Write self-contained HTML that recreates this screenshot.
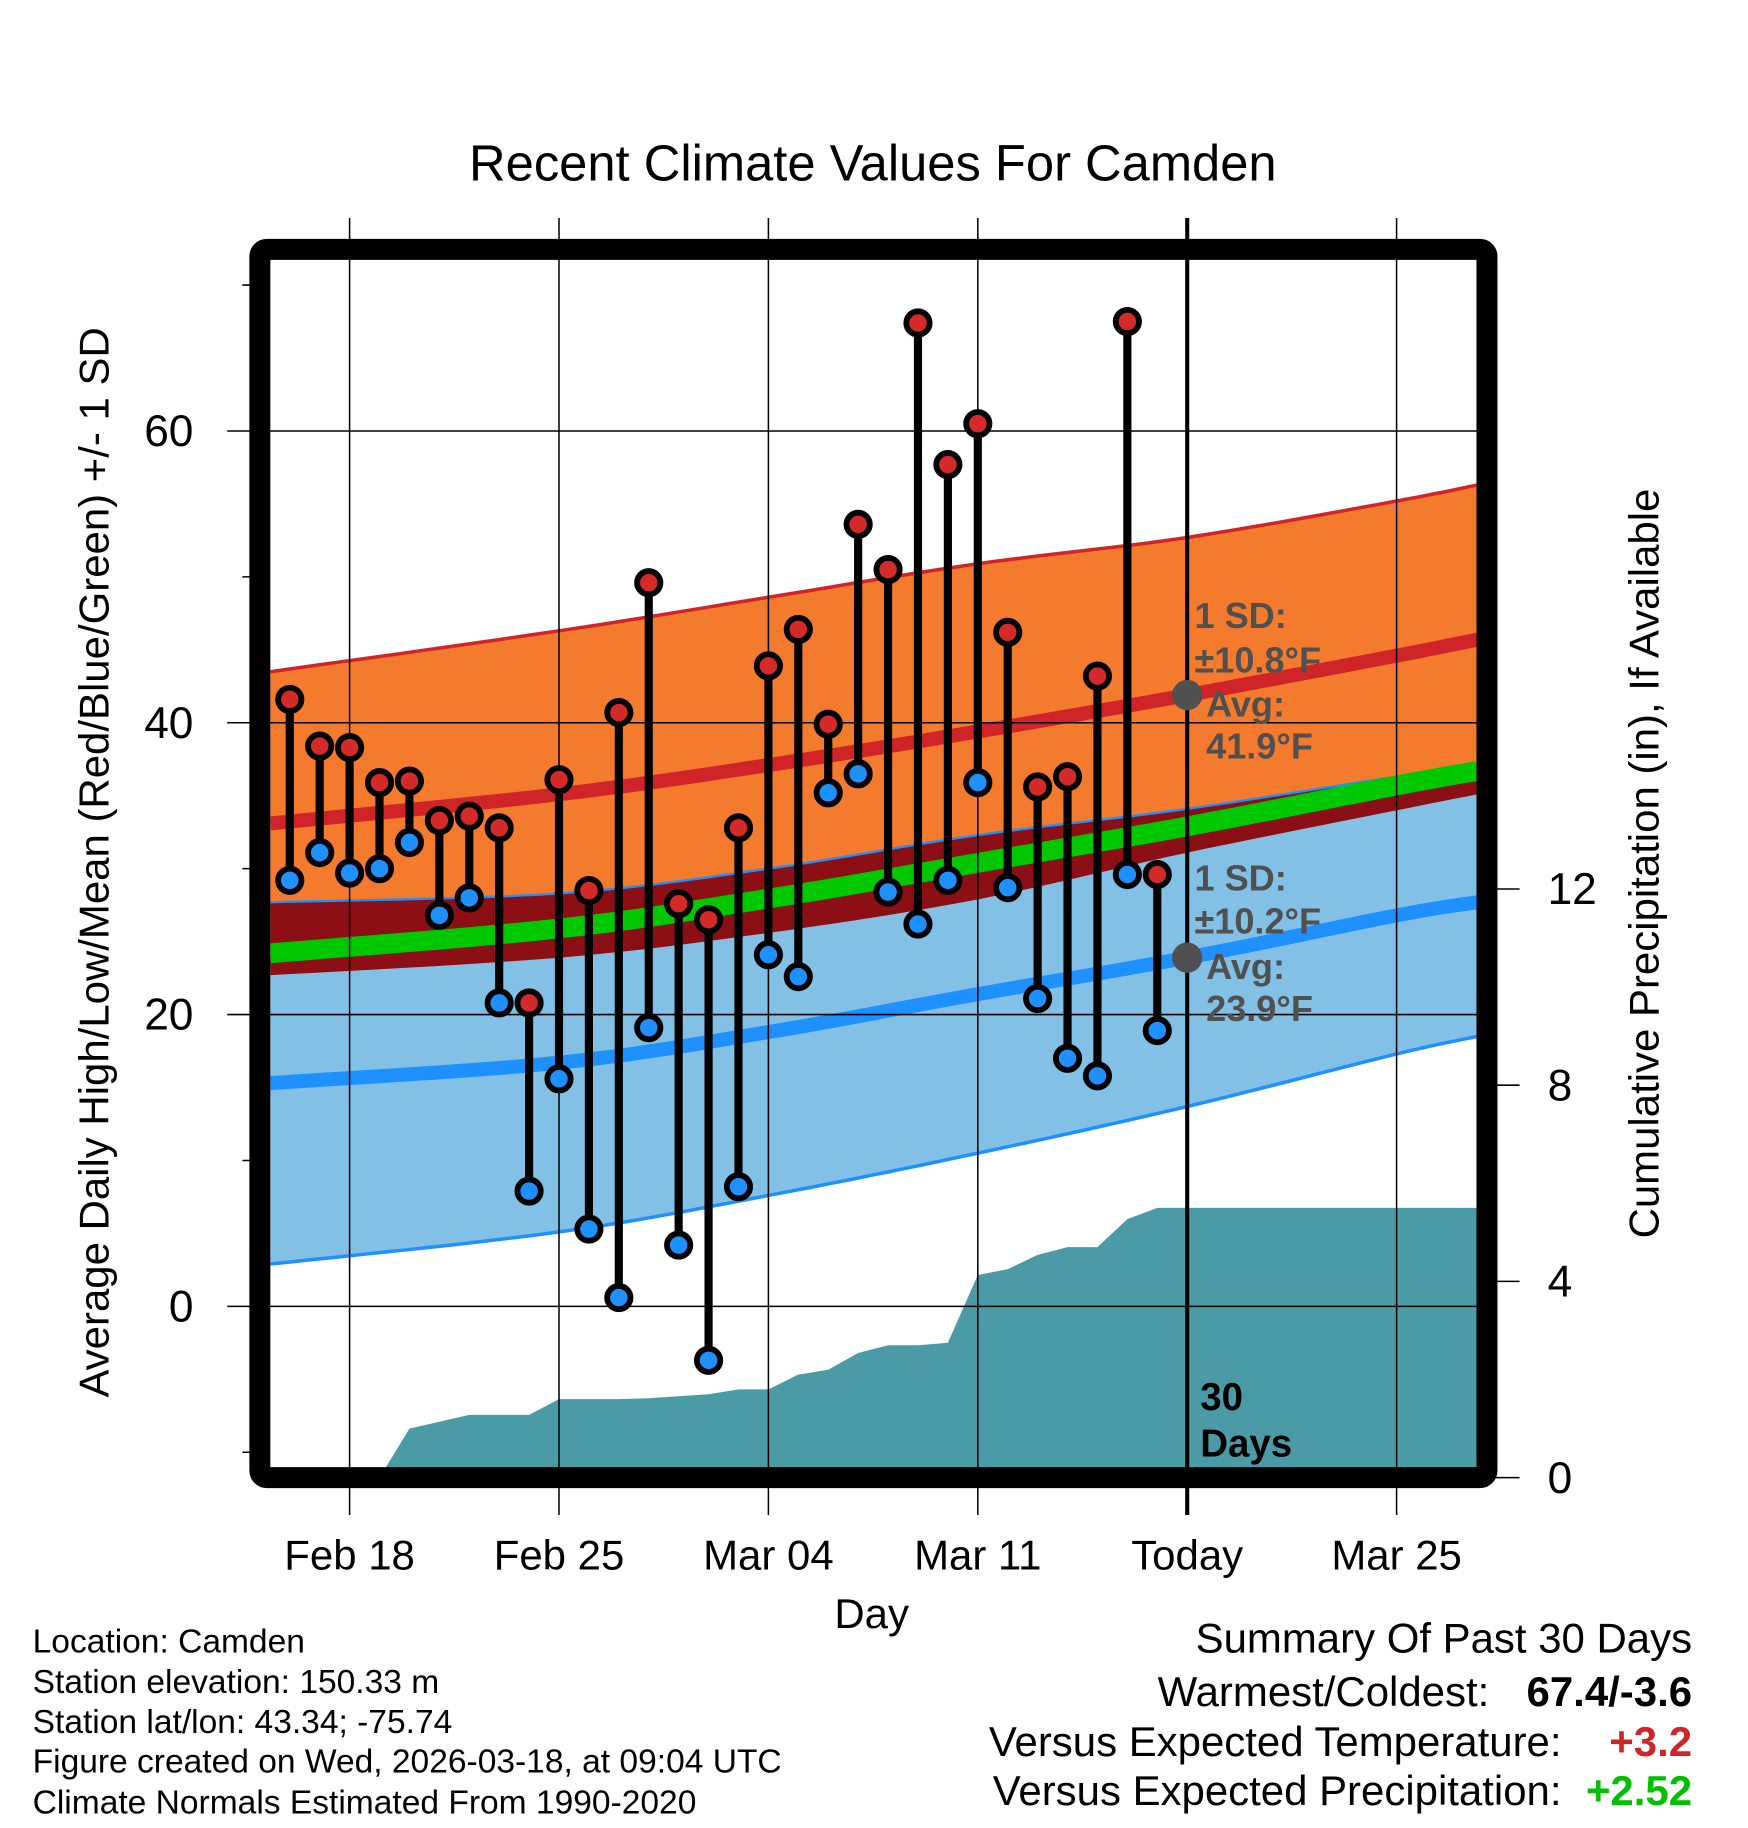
<!DOCTYPE html>
<html><head><meta charset="utf-8"><style>
html,body{margin:0;padding:0;background:#fff;}
svg{display:block;font-family:"Liberation Sans",Arial,sans-serif;}
</style></head><body>
<svg id="chart" xmlns="http://www.w3.org/2000/svg" width="1748" height="1828" viewBox="0 0 1500 1568.6"></svg>
<script>
// ---- data ----
const dayLabels = ["Feb 18","Feb 25","Mar 04","Mar 11","Today","Mar 25"];
const labelDays = [0,7,14,21,28,35];
const obsDays = [-2,-1,0,1,2,3,4,5,6,7,8,9,10,11,12,13,14,15,16,17,18,19,20,21,22,23,24,25,26,27];
const highs = [41.6,38.4,38.3,35.9,36.0,33.3,33.6,32.8,20.8,36.1,28.5,40.7,49.6,27.6,26.5,32.8,43.9,46.4,39.9,53.6,50.5,67.4,57.7,60.5,46.2,35.6,36.3,43.2,67.5,29.6];
const lows = [29.2,31.1,29.7,30.0,31.8,26.8,28.0,20.8,7.9,15.6,5.3,0.6,19.1,4.2,-3.7,8.2,24.1,22.6,35.2,36.5,28.4,26.2,29.2,35.9,28.7,21.1,17.0,15.8,29.6,18.9];
const precip = [0,0,0,0,1.0,1.14,1.28,1.28,1.28,1.6,1.6,1.6,1.62,1.66,1.7,1.8,1.8,2.1,2.2,2.54,2.7,2.7,2.75,4.13,4.25,4.54,4.7,4.7,5.27,5.5];
const normDays = [-2.65,7,14,21,28,35,37.7];
const hiMean = [33.1,35.1,37.1,39.4,41.9,44.6,45.7];
const hiSD = [10.4,11.2,11.5,11.5,10.8,10.6,10.6];
const loMean = [15.3,16.7,18.8,21.4,23.9,26.8,27.7];
const loSD = [12.4,11.6,11.2,10.9,10.2,9.5,9.2];
const tempTicks = [0,20,40,60];
const tempMinor = [-10,10,30,50,70];
const precipTicks = [0,4,8,12];

// ---- scales ----
const L=232,R=1268,T=223,B=1260;
const X=d=>300+d*25.67;
const Y=t=>1121-t*12.52;
const P=p=>1268-p*42.1;
const NS="http://www.w3.org/2000/svg";
const svg=document.getElementById('chart');
function el(tag,attrs,parent){const e=document.createElementNS(NS,tag);for(const k in attrs)e.setAttribute(k,attrs[k]);(parent||svg).appendChild(e);return e;}
function txt(s,attrs,parent){const e=el('text',attrs,parent);e.textContent=s;return e;}

const clip=el('clipPath',{id:'plotclip'});el('rect',{x:L,y:T,width:R-L,height:B-T},clip);
const g=el('g',{'clip-path':'url(#plotclip)'});



// smooth curve through normal points (monotone-ish cardinal)
function curvePts(vals){
  const p=normDays.map((d,i)=>[X(d),Y(vals[i])]);
  const out=[];
  for(let i=0;i<p.length-1;i++){
    const p0=p[Math.max(i-1,0)],p1=p[i],p2=p[i+1],p3=p[Math.min(i+2,p.length-1)];
    for(let s=0;s<10;s++){
      const t=s/10,t2=t*t,t3=t2*t;
      const f=(a,b,c,d)=>0.5*((2*b)+(-a+c)*t+(2*a-5*b+4*c-d)*t2+(-a+3*b-3*c+d)*t3);
      out.push(f(p0[0],p1[0],p2[0],p3[0]).toFixed(1)+','+f(p0[1],p1[1],p2[1],p3[1]).toFixed(1));
    }
  }
  out.push(p[p.length-1][0]+','+p[p.length-1][1]);
  return out;
}
const hiTop=hiMean.map((m,i)=>m+hiSD[i]), hiBot=hiMean.map((m,i)=>m-hiSD[i]);
const loTop=loMean.map((m,i)=>m+loSD[i]), loBot=loMean.map((m,i)=>m-loSD[i]);
function band(a,b){return curvePts(a).concat(curvePts(b).reverse()).join(' ');}
let e;
e=el('polygon',{points:band(loTop,loBot),fill:'#82c0e6'},g);

e=el('polygon',{points:band(hiTop,hiBot),fill:'#f47a2e'},g);

e=el('polygon',{points:band(loTop,hiBot),fill:'#8b0f14'},g);

e=el('polyline',{points:curvePts(loTop).join(' '),fill:'none',stroke:'#1e90ff','stroke-width':2},g);

e=el('polyline',{points:curvePts(loBot).join(' '),fill:'none',stroke:'#1e90ff','stroke-width':3},g);

e=el('polyline',{points:curvePts(hiTop).join(' '),fill:'none',stroke:'#d02428','stroke-width':3},g);

const avgMean=hiMean.map((m,i)=>(m+loMean[i])/2);
e=el('polyline',{points:curvePts(avgMean).join(' '),fill:'none',stroke:'#00c800','stroke-width':17},g);

e=el('polyline',{points:curvePts(hiMean).join(' '),fill:'none',stroke:'#d02428','stroke-width':12},g);

e=el('polyline',{points:curvePts(loMean).join(' '),fill:'none',stroke:'#1e90ff','stroke-width':12},g);


// precip area
let pts=[X(obsDays[0])+','+P(0)];
obsDays.forEach((d,i)=>pts.push(X(d)+','+P(precip[i])));
pts.push(R+10+','+P(precip[precip.length-1]));pts.push(R+10+','+P(0));
e=el('polygon',{points:pts.join(' '),fill:'#4a9ba5'},g);


// grid
labelDays.forEach((d,i)=>{
  e=el('line',{x1:X(d),x2:X(d),y1:187,y2:1300,stroke:'#000','stroke-width':i==4?3.5:1.3});
  
  e=txt(dayLabels[i],{x:X(d),y:1347,'font-size':36,'text-anchor':'middle'});
  
});
tempTicks.forEach(t=>{
  e=el('line',{x1:195,x2:R,y1:Y(t),y2:Y(t),stroke:'#000','stroke-width':1.3});
  
  e=txt(String(t),{x:166,y:Y(t)+13,'font-size':38,'text-anchor':'end'});
  
});
tempMinor.forEach(t=>{
  e=el('line',{x1:208,x2:226,y1:Y(t),y2:Y(t),stroke:'#000','stroke-width':1.3});
  
});
precipTicks.forEach(p=>{
  e=el('line',{x1:R,x2:1304,y1:P(p),y2:P(p),stroke:'#000','stroke-width':1.3});
  
  e=txt(String(p),{x:1328,y:P(p)+13,'font-size':38,'text-anchor':'start'});
  
});

// observations
obsDays.forEach((d,i)=>{
  e=el('line',{x1:X(d),x2:X(d),y1:Y(highs[i]),y2:Y(lows[i]),stroke:'#000','stroke-width':7});
  
});
obsDays.forEach((d,i)=>{
  e=el('circle',{cx:X(d),cy:Y(highs[i]),r:10,fill:'#d42a2a',stroke:'#000','stroke-width':5});
  
  e=el('circle',{cx:X(d),cy:Y(lows[i]),r:10,fill:'#1e90ff',stroke:'#000','stroke-width':5});
  
});

// annotations
const ga={fill:'#505050','font-size':31,'font-weight':'bold'};
e=el('circle',{cx:X(28),cy:Y(41.9),r:13,fill:'#505050'});
e=el('circle',{cx:X(28),cy:Y(23.9),r:13,fill:'#505050'});
[["1 SD:",1025,539],["±10.8°F",1025,577],["Avg:",1035,615],["41.9°F",1035,651],
 ["1 SD:",1025,764],["±10.2°F",1025,801],["Avg:",1035,840],["23.9°F",1035,876]].forEach(a=>{
  e=txt(a[0],Object.assign({x:a[1],y:a[2]},ga));
  
});
e=txt("30",{x:1030,y:1210,'font-size':33,'font-weight':'bold'});
e=txt("Days",{x:1030,y:1250,'font-size':33,'font-weight':'bold'});

// frame
e=el('rect',{x:223,y:214,width:1053,height:1054,rx:6,fill:'none',stroke:'#000','stroke-width':18});


// titles
e=txt("Recent Climate Values For Camden",{x:749,y:155,'font-size':43.5,'text-anchor':'middle'});

e=txt("Day",{x:748,y:1397,'font-size':36,'text-anchor':'middle'});

e=txt("Average Daily High/Low/Mean (Red/Blue/Green) +/- 1 SD",{x:0,y:0,'font-size':36,'text-anchor':'middle',transform:'translate(93,740) rotate(-90)'});

e=txt("Cumulative Precipitation (in), If Available",{x:0,y:0,'font-size':36,'text-anchor':'middle',transform:'translate(1423,741) rotate(-90)'});


// footer
[["Location: Camden",1418],["Station elevation: 150.33 m",1453],["Station lat/lon: 43.34; -75.74",1487],["Figure created on Wed, 2026-03-18, at 09:04 UTC",1521],["Climate Normals Estimated From 1990-2020",1556]].forEach(a=>{
  e=txt(a[0],{x:28,y:a[1],'font-size':28.8});
  
});
e=txt("Summary Of Past 30 Days",{x:1452,y:1418,'font-size':36,'text-anchor':'end'});

[["Warmest/Coldest:",1278,1464,"67.4/-3.6","#000"],["Versus Expected Temperature:",1340,1507,"+3.2","#d02428"],["Versus Expected Precipitation:",1340,1549,"+2.52","#00c000"]].forEach(a=>{
  e=txt(a[0],{x:a[1],y:a[2],'font-size':36,'text-anchor':'end'});
  
  e=txt(a[3],{x:1452,y:a[2],'font-size':36,'font-weight':'bold','text-anchor':'end',fill:a[4]});
  
});
</script>
</body></html>
